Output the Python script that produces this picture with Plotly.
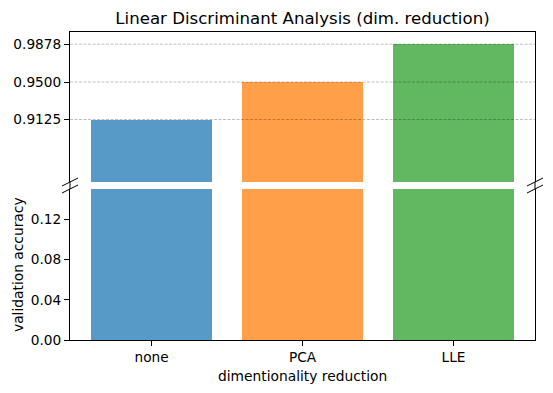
import plotly.graph_objects as go

categories = ["none", "PCA", "LLE"]
accuracy = [0.9125, 0.95, 0.9878]
colors = ["rgba(31,119,180,0.75)", "rgba(255,127,14,0.75)", "rgba(44,160,44,0.75)"]
top_ticks = [0.9125, 0.95, 0.9878]
top_tick_labels = ["0.9125", "0.9500", "0.9878"]
bottom_ticks = [0.0, 0.04, 0.08, 0.12]
bottom_tick_labels = ["0.00", "0.04", "0.08", "0.12"]
top_range = [0.85, 1.0]
bottom_range = [0.0, 0.15]

# page body has an 8px offset; compensate so the plot lands at the reference spot
OFF = 8
W, H = 553, 393
ml, mr, mt, mb = 70 - OFF, 26, 32 - OFF, 61
pw = W - ml - mr
ph = H - mt - mb
bottom_px = 340 - OFF
top_dom = [(bottom_px - (182 - OFF)) / ph, 1.0]
bot_dom = [0.0, (bottom_px - (189 - OFF)) / ph]

FONT = "DejaVu Sans"
TICK = 13.7
LBL = 13.8
fig = go.Figure()
xs = list(range(len(categories)))
for ax_y, ax_x in [("y", "x"), ("y2", "x2")]:
    fig.add_trace(go.Bar(x=xs, y=accuracy, marker=dict(color=colors, line=dict(width=0)),
                         width=0.8, xaxis=ax_x, yaxis=ax_y, showlegend=False))

xr = [-0.54, len(categories) - 1 + 0.54]
axis_common = dict(showline=True, linecolor="black", linewidth=1, showgrid=False, zeroline=False,
                   automargin=False, ticks="outside", ticklen=5, tickcolor="black",
                   tickfont=dict(size=TICK, color="black", family=FONT))
fig.update_layout(
    width=W, height=H, margin=dict(l=ml, r=mr, t=mt, b=mb, autoexpand=False),
    plot_bgcolor="white", paper_bgcolor="white", bargap=0,
    font=dict(family=FONT, color="black"),
    title=dict(text="Linear Discriminant Analysis (dim. reduction)", x=(ml + pw / 2) / W, xanchor="center",
               y=1 - (18 - OFF) / H, yanchor="middle", font=dict(size=16.6, family=FONT, color="black")),
    xaxis=dict(**axis_common, range=xr, tickvals=xs, ticktext=categories, anchor="y"),
    xaxis2=dict(showline=True, linecolor="black", linewidth=1, side="top", range=xr, anchor="y2",
                showticklabels=False, ticks="", showgrid=False, zeroline=False, matches="x"),
    yaxis=dict(**axis_common, range=bottom_range, domain=bot_dom, mirror=True, tickvals=bottom_ticks,
               ticktext=bottom_tick_labels, anchor="x"),
    yaxis2=dict(**axis_common, range=top_range, domain=top_dom, mirror=True, tickvals=top_ticks,
                ticktext=top_tick_labels, anchor="x2"),
)

# axis labels
fig.add_annotation(text="dimentionality reduction", xref="paper", yref="paper",
                   x=0.5, y=(bottom_px - (376 - OFF)) / ph, xanchor="center", yanchor="middle",
                   showarrow=False, font=dict(size=LBL, family=FONT, color="black"))
fig.add_annotation(text="validation accuracy", xref="paper", yref="paper", textangle=-90,
                   x=((17.5 - OFF) - ml) / pw, y=(bottom_px - (264.5 - OFF)) / ph,
                   xanchor="center", yanchor="middle",
                   showarrow=False, font=dict(size=LBL, family=FONT, color="black"))

# grid lines above bars in top panel
for v in top_ticks:
    fig.add_shape(type="line", xref="x2 domain", yref="y2", x0=0, x1=1, y0=v, y1=v,
                  line=dict(color="rgba(0,0,0,0.32)", width=0.8, dash="3px,1.5px"), layer="above")

# spines bridging the gap
for xa in [0, 1]:
    fig.add_shape(type="line", xref="x domain", yref="paper", x0=xa, x1=xa,
                  y0=bot_dom[1], y1=top_dom[0], line=dict(color="black", width=1), layer="above")

# break marks
for xa in [0, 1]:
    for yref, ya in [("y2 domain", 0), ("y domain", 1)]:
        fig.add_shape(type="line", xref="x domain", yref=yref, xsizemode="pixel", ysizemode="pixel",
                      xanchor=xa, yanchor=ya, x0=-8, x1=8, y0=-4, y1=4,
                      line=dict(color="black", width=1), layer="above")

fig.write_html("out.html")
